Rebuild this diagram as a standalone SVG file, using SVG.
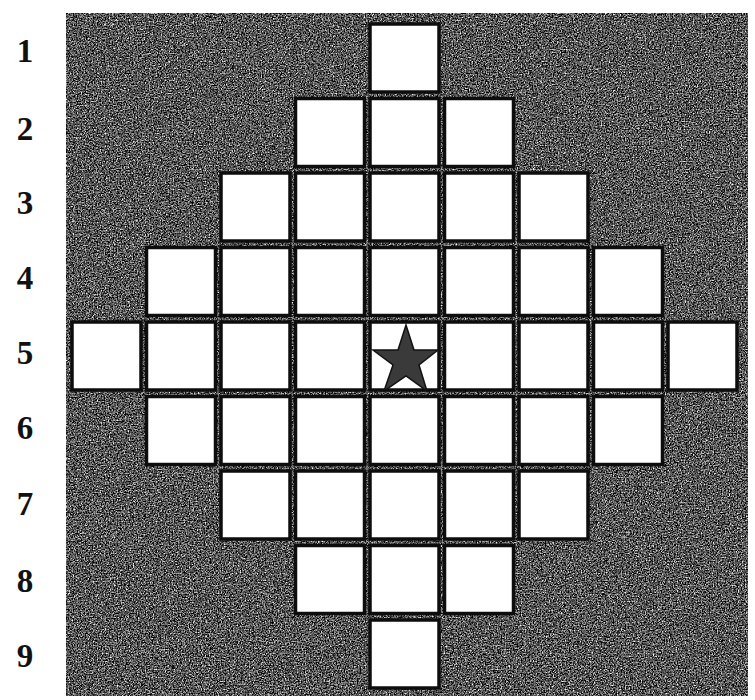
<svg xmlns="http://www.w3.org/2000/svg" width="755" height="700" viewBox="0 0 755 700">
<defs>
<filter id="grain" x="0" y="0" width="100%" height="100%" color-interpolation-filters="sRGB">
<feTurbulence type="fractalNoise" baseFrequency="0.75" numOctaves="2" seed="7" result="n"/>
<feColorMatrix in="n" type="matrix" values="0.33 0.33 0.33 0 0  0.33 0.33 0.33 0 0  0.33 0.33 0.33 0 0  0 0 0 0 1" result="g"/>
<feComponentTransfer in="g">
<feFuncR type="linear" slope="3.6" intercept="-1.45"/>
<feFuncG type="linear" slope="3.6" intercept="-1.45"/>
<feFuncB type="linear" slope="3.6" intercept="-1.45"/>
</feComponentTransfer>
</filter>
<style>
.cell{fill:#ffffff;stroke:#0d0d0d;stroke-width:3.5}
.lbl{font-family:"Liberation Serif","DejaVu Serif",serif;font-weight:bold;font-size:33px;fill:#111;text-anchor:middle}
</style>
</defs>
<rect width="755" height="700" fill="#ffffff"/>
<g id="board">
<rect x="66" y="13" width="682" height="683" fill="#1a1a1a"/>
<rect x="66" y="13" width="682" height="683" filter="url(#grain)"/>
</g>
<g id="cells">
<rect class="cell" x="370" y="24" width="69" height="68"/>
<rect class="cell" x="295.5" y="98.5" width="69" height="68"/>
<rect class="cell" x="370" y="98.5" width="69" height="68"/>
<rect class="cell" x="444.5" y="98.5" width="69" height="68"/>
<rect class="cell" x="221" y="173" width="69" height="68"/>
<rect class="cell" x="295.5" y="173" width="69" height="68"/>
<rect class="cell" x="370" y="173" width="69" height="68"/>
<rect class="cell" x="444.5" y="173" width="69" height="68"/>
<rect class="cell" x="519" y="173" width="69" height="68"/>
<rect class="cell" x="146.5" y="247.5" width="69" height="68"/>
<rect class="cell" x="221" y="247.5" width="69" height="68"/>
<rect class="cell" x="295.5" y="247.5" width="69" height="68"/>
<rect class="cell" x="370" y="247.5" width="69" height="68"/>
<rect class="cell" x="444.5" y="247.5" width="69" height="68"/>
<rect class="cell" x="519" y="247.5" width="69" height="68"/>
<rect class="cell" x="593.5" y="247.5" width="69" height="68"/>
<rect class="cell" x="72" y="322" width="69" height="68"/>
<rect class="cell" x="146.5" y="322" width="69" height="68"/>
<rect class="cell" x="221" y="322" width="69" height="68"/>
<rect class="cell" x="295.5" y="322" width="69" height="68"/>
<rect class="cell" x="370" y="322" width="69" height="68"/>
<rect class="cell" x="444.5" y="322" width="69" height="68"/>
<rect class="cell" x="519" y="322" width="69" height="68"/>
<rect class="cell" x="593.5" y="322" width="69" height="68"/>
<rect class="cell" x="668" y="322" width="69" height="68"/>
<rect class="cell" x="146.5" y="396.5" width="69" height="68"/>
<rect class="cell" x="221" y="396.5" width="69" height="68"/>
<rect class="cell" x="295.5" y="396.5" width="69" height="68"/>
<rect class="cell" x="370" y="396.5" width="69" height="68"/>
<rect class="cell" x="444.5" y="396.5" width="69" height="68"/>
<rect class="cell" x="519" y="396.5" width="69" height="68"/>
<rect class="cell" x="593.5" y="396.5" width="69" height="68"/>
<rect class="cell" x="221" y="471" width="69" height="68"/>
<rect class="cell" x="295.5" y="471" width="69" height="68"/>
<rect class="cell" x="370" y="471" width="69" height="68"/>
<rect class="cell" x="444.5" y="471" width="69" height="68"/>
<rect class="cell" x="519" y="471" width="69" height="68"/>
<rect class="cell" x="295.5" y="545.5" width="69" height="68"/>
<rect class="cell" x="370" y="545.5" width="69" height="68"/>
<rect class="cell" x="444.5" y="545.5" width="69" height="68"/>
<rect class="cell" x="370" y="620" width="69" height="68"/>
</g>
<g id="star">
<polygon points="406,325 414,350 438,350 419,365 427,391 406,376 384,391 393,365 373,350 398,350" fill="#3a3a3a" stroke="#111" stroke-width="1.5"/>
</g>
<g id="labels">
<text class="lbl" x="25" y="62">1</text>
<text class="lbl" x="25" y="140">2</text>
<text class="lbl" x="25" y="214">3</text>
<text class="lbl" x="25" y="289">4</text>
<text class="lbl" x="25" y="364">5</text>
<text class="lbl" x="25" y="439">6</text>
<text class="lbl" x="25" y="515">7</text>
<text class="lbl" x="25" y="592">8</text>
<text class="lbl" x="25" y="667">9</text>
</g>
</svg>
